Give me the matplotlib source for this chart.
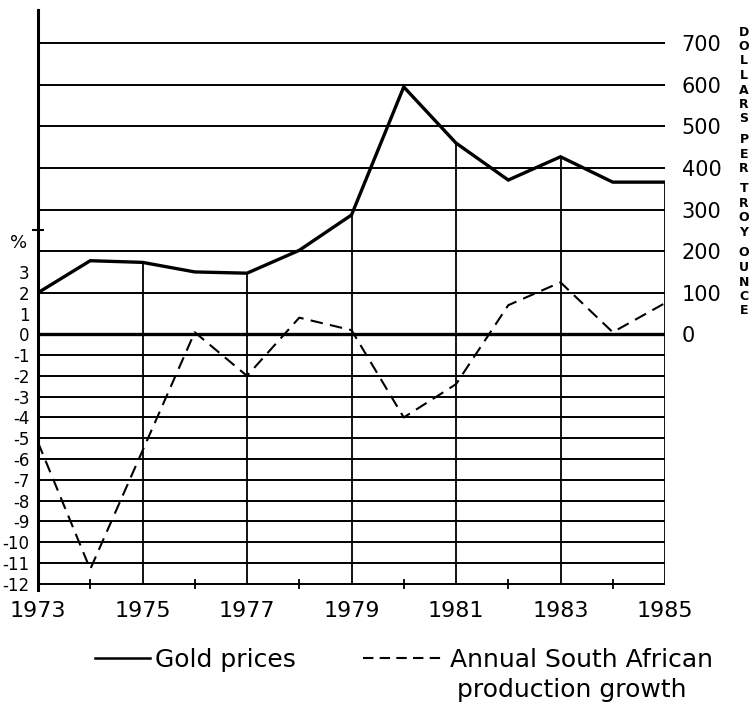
import matplotlib.pyplot as plt
from matplotlib.lines import Line2D

# values
years = [1973, 1974, 1975, 1976, 1977, 1978, 1979, 1980, 1981, 1982, 1983, 1984, 1985]
gold_price = [100, 177, 173, 150, 147, 202, 287, 595, 460, 371, 427, 366, 366]  # dollars per troy ounce
production_growth = [-5.2, -11.3, -5.6, 0.1, -2.0, 0.8, 0.2, -4.0, -2.4, 1.4, 2.5, 0.1, 1.5]  # %

pct_ticks = [3, 2, 1, 0, -1, -2, -3, -4, -5, -6, -7, -8, -9, -10, -11, -12]
pct_grid = [0, -1, -2, -3, -4, -5, -6, -7, -8, -9, -10, -11, -12]
dollar_ticks = [0, 100, 200, 300, 400, 500, 600, 700]
year_labels = [1973, 1975, 1977, 1979, 1981, 1983, 1985]
even_years = [1974, 1976, 1978, 1980, 1982, 1984]
side_title = "DOLLARS PER TROY OUNCE"

W, H = 753, 704
fig = plt.figure(figsize=(W / 100, H / 100), dpi=100)
ax = fig.add_axes([38 / W, 1 - 590 / H, (665 - 38) / W, 580 / H])
ax2 = ax.twinx()

# 100 dollars on the right scale = 2 % on the left scale
ax.set_xlim(1973, 1985)
ax.set_ylim(-12.3, 15.6)
ax2.set_ylim(-12.3 * 50, 15.6 * 50)

for a in (ax, ax2):
    for s in ("top", "right", "bottom"):
        a.spines[s].set_visible(False)
ax2.spines["left"].set_visible(False)
ax.spines["left"].set_linewidth(2.2)

# horizontal rules
ax2.hlines(dollar_ticks[1:], 1973, 1985, color="black", lw=1.4)
ax.hlines([v for v in pct_grid if v != 0], 1973, 1985, color="black", lw=1.4)
ax.hlines(0, 1973, 1985, color="black", lw=2.4)

# vertical rules at odd years, from the gold curve down to -12 %
gold_odd = [gold_price[years.index(y)] for y in year_labels[1:]]
ax2.vlines(year_labels[1:], -12 * 50, gold_odd, color="black", lw=1.3)
ax.vlines(even_years, -12.25, -11.75, color="black", lw=1.3)

ax2.plot(years, gold_price, color="black", lw=2.4, solid_joinstyle="miter")
ax.plot(years, production_growth, color="black", lw=1.5, dashes=(6, 3.5))

ax.set_xticks(year_labels)
ax.set_xticklabels([str(y) for y in year_labels], fontsize=16)
ax.tick_params(axis="x", length=0, pad=8)

ax.set_yticks(pct_ticks)
ax.set_yticklabels([str(v) for v in pct_ticks], fontsize=12)
ax.set_yticks([1, 3, 5], minor=True)
ax.tick_params(axis="y", which="major", length=0, pad=6)
ax.tick_params(axis="y", which="minor", direction="inout", length=8, width=1.5)
ax.text(1972.62, 4.4, "%", fontsize=13, ha="center", va="center")

ax2.set_yticks(dollar_ticks)
ax2.set_yticklabels([str(v) for v in dollar_ticks], fontsize=15)
ax2.tick_params(axis="y", length=0, pad=12)

# stacked vertical caption on the far right
ypix = 32
for ch in side_title:
    if ch == " ":
        ypix += 6
        continue
    fig.text(744 / W, 1 - ypix / H, ch, fontsize=9, fontweight="bold", ha="center", va="center")
    ypix += 14.5

# legend
fig.legend(handles=[Line2D([], [], color="black", lw=1.8)], labels=["Gold prices"],
           loc="center left", bbox_to_anchor=(95 / W, 1 - 660 / H), frameon=False,
           fontsize=18, handlelength=2.2, handletextpad=0.2, borderpad=0, borderaxespad=0)
fig.legend(handles=[Line2D([], [], color="black", lw=1.5, dashes=(5, 3))],
           labels=["Annual South African"],
           loc="center left", bbox_to_anchor=(363 / W, 1 - 660 / H), frameon=False,
           fontsize=18, handlelength=3.3, handletextpad=0.2, borderpad=0, borderaxespad=0)
fig.text(572 / W, 1 - 690 / H, "production growth", fontsize=18, ha="center", va="center")

fig.savefig("out.png", dpi=100)
